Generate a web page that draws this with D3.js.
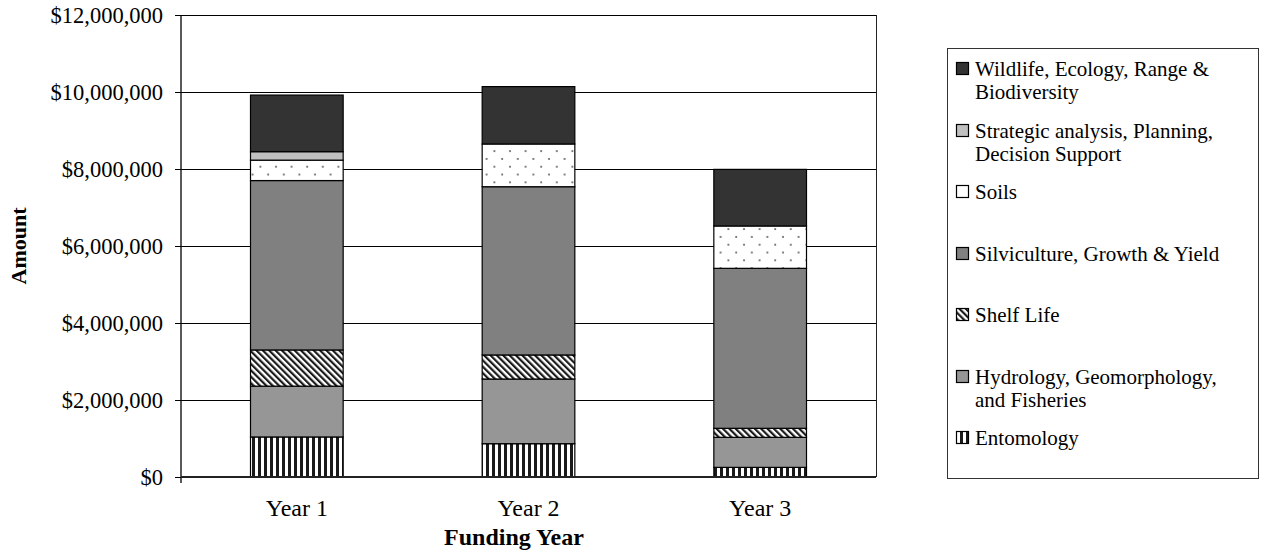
<!DOCTYPE html>
<html><head><meta charset="utf-8">
<script src="https://cdn.jsdelivr.net/npm/d3@7"></script>
<style>
html,body{margin:0;padding:0;background:#fff;}
svg{display:block;}
svg text, svg tspan{font-family:"Liberation Serif","Times New Roman",serif;fill:#000;}
</style></head>
<body><svg id="c" width="1266" height="554"></svg>
<script>
const years = ["Year 1", "Year 2", "Year 3"];
const seriesNames = ["Entomology", "Hydrology, Geomorphology, and Fisheries", "Shelf Life",
  "Silviculture, Growth & Yield", "Soils", "Strategic analysis, Planning, Decision Support",
  "Wildlife, Ecology, Range & Biodiversity"];
const entomology   = [1040000,  865000,  250000];
const hydrology    = [1320000, 1680000,  780000];
const shelfLife    = [ 940000,  625000,  235000];
const silviculture = [4400000, 4370000, 4155000];
const soils        = [ 530000, 1110000, 1100000];
const strategic    = [ 220000,       0,       0];
const wildlife     = [1470000, 1490000, 1470000];
const yTicks = [0, 2000000, 4000000, 6000000, 8000000, 10000000, 12000000];
const legendLines = {
  "Wildlife, Ecology, Range & Biodiversity": ["Wildlife, Ecology, Range &", "Biodiversity"],
  "Strategic analysis, Planning, Decision Support": ["Strategic analysis, Planning,", "Decision Support"],
  "Soils": ["Soils"],
  "Silviculture, Growth & Yield": ["Silviculture, Growth & Yield"],
  "Shelf Life": ["Shelf Life"],
  "Hydrology, Geomorphology, and Fisheries": ["Hydrology, Geomorphology,", "and Fisheries"],
  "Entomology": ["Entomology"]
};
const seriesValues = [entomology, hydrology, shelfLife, silviculture, soils, strategic, wildlife];

const FONT = "'Liberation Serif','Times New Roman',serif";
const svg = d3.select("#c");
const defs = svg.append("defs");
const pEnt = defs.append("pattern").attr("id","pEnt").attr("patternUnits","userSpaceOnUse").attr("width",6).attr("height",6);
pEnt.append("rect").attr("width",6).attr("height",6).attr("fill","#fff");
pEnt.append("rect").attr("x",0).attr("width",3).attr("height",6).attr("fill","#1a1a1a");
const pShelf = defs.append("pattern").attr("id","pShelf").attr("patternUnits","userSpaceOnUse").attr("width",4.5).attr("height",4.5).attr("patternTransform","rotate(-45)");
pShelf.append("rect").attr("width",4.5).attr("height",4.5).attr("fill","#fff");
pShelf.append("rect").attr("width",2.2).attr("height",4.5).attr("fill","#1a1a1a");
const pSoil = defs.append("pattern").attr("id","pSoil").attr("patternUnits","userSpaceOnUse").attr("width",15.6).attr("height",15.6);
pSoil.append("rect").attr("width",15.6).attr("height",15.6).attr("fill","#fff");
pSoil.append("circle").attr("cx",3).attr("cy",3).attr("r",1).attr("fill","#555");
pSoil.append("circle").attr("cx",10.8).attr("cy",10.8).attr("r",1).attr("fill","#555");

const fills = {
  "Entomology":"url(#pEnt)",
  "Hydrology, Geomorphology, and Fisheries":"#969696",
  "Shelf Life":"url(#pShelf)",
  "Silviculture, Growth & Yield":"#808080",
  "Soils":"url(#pSoil)",
  "Strategic analysis, Planning, Decision Support":"#c0c0c0",
  "Wildlife, Ecology, Range & Biodiversity":"#333333"
};

const m = {left:181, top:15, right:876, bottom:477};
const x = d3.scaleBand().domain(years).range([m.left, m.right]).paddingInner(0.6).paddingOuter(0.3);
const y = d3.scaleLinear().domain([0, 12000000]).range([m.bottom, m.top]);

const table = years.map((yr,i)=>{ const o={year:yr}; seriesNames.forEach((s,j)=>o[s]=seriesValues[j][i]); return o; });
const stacked = d3.stack().keys(seriesNames)(table);

svg.append("g").selectAll("line").data(yTicks.filter(d=>d>0)).join("line")
  .attr("x1",m.left).attr("x2",m.right).attr("y1",d=>Math.round(y(d))+0.5).attr("y2",d=>Math.round(y(d))+0.5)
  .attr("stroke","#000").attr("stroke-width",1);
svg.append("line").attr("x1",m.right+0.5).attr("x2",m.right+0.5).attr("y1",Math.round(y(12000000))).attr("y2",m.bottom)
  .attr("stroke","#222");

const g = svg.append("g");
stacked.forEach(layer=>{
  g.append("g").selectAll("rect").data(layer.filter(d=>d[1]-d[0]>0)).join("rect")
    .attr("x",d=>x(d.data.year)).attr("width",x.bandwidth())
    .attr("y",d=>y(d[1])).attr("height",d=>y(d[0])-y(d[1]))
    .attr("fill",fills[layer.key]).attr("stroke","#000").attr("stroke-width",1.2);
});

const yAxis = svg.append("g").attr("transform",`translate(${m.left},0)`)
  .call(d3.axisLeft(y).tickValues(yTicks).tickFormat(d3.format("$,")).tickSize(6).tickPadding(12));
yAxis.select(".domain").attr("stroke","#000").attr("stroke-width",1.3).attr("d",`M0,${y(12000000)}V${m.bottom+6}`);
yAxis.selectAll(".tick line").attr("stroke","#000");
yAxis.selectAll("text").attr("font-family",FONT).style("font-family",FONT).style("font-size","22.5px").attr("fill","#000");

const xAxis = svg.append("g").attr("transform",`translate(0,${m.bottom})`)
  .call(d3.axisBottom(x).tickSize(0).tickPadding(22));
xAxis.select(".domain").attr("stroke","#222").attr("stroke-width",2).attr("d",`M${m.left},0H${m.right}`);
xAxis.selectAll("text").attr("font-family",FONT).style("font-family",FONT).style("font-size","24px").attr("fill","#000");

svg.append("text").attr("x",514).attr("y",545).attr("text-anchor","middle")
  .style("font-family",FONT).style("font-size","24px").style("font-weight","bold").text("Funding Year");
svg.append("text").attr("transform",`translate(26,${(m.top+m.bottom)/2}) rotate(-90)`).attr("text-anchor","middle")
  .style("font-family",FONT).style("font-size","22px").style("font-weight","bold").text("Amount");

const lg = svg.append("g");
lg.append("rect").attr("x",947.5).attr("y",48.5).attr("width",311).attr("height",430)
  .attr("fill","#fff").attr("stroke","#333").attr("stroke-width",1);
const legendOrder = seriesNames.slice().reverse();
const ly = d3.scalePoint().domain(legendOrder).range([69, 438]);
legendOrder.forEach(s=>{
  const yy = ly(s);
  lg.append("rect").attr("x",956.5).attr("y",Math.round(yy)-6.5).attr("width",12).attr("height",12)
    .attr("fill",fills[s]).attr("stroke","#000").attr("stroke-width",1.2);
  legendLines[s].forEach((ln,k)=>{
    lg.append("text").attr("x",975).attr("y",yy+7+k*23)
      .style("font-family",FONT).style("font-size","21px").text(ln);
  });
});
</script></body></html>
